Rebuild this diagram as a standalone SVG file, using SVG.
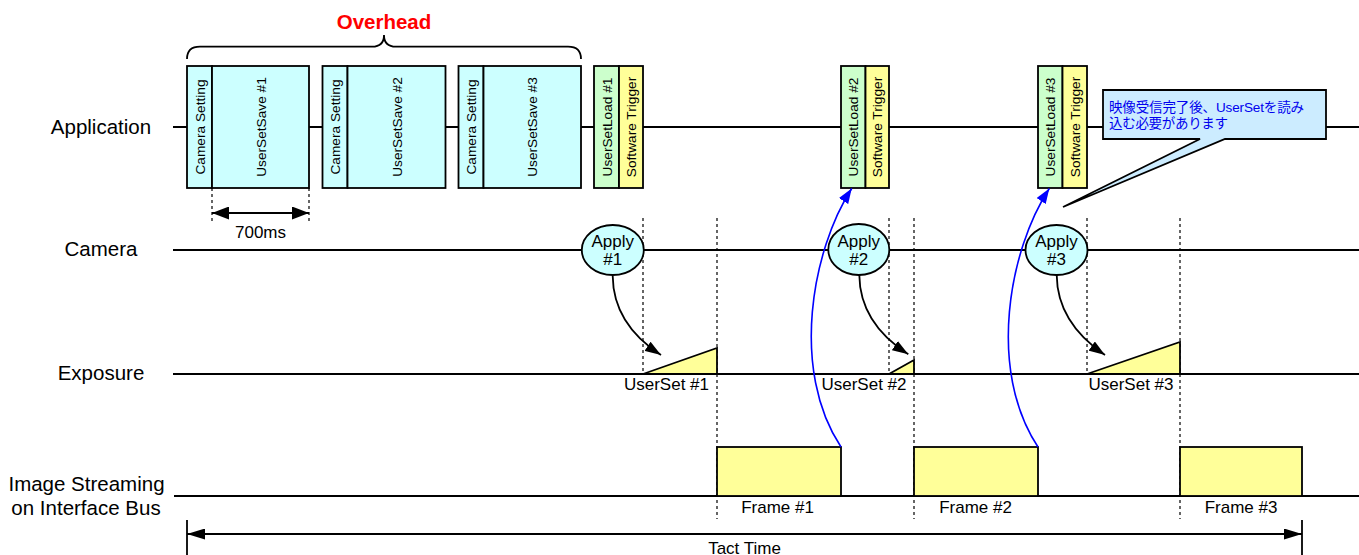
<svg xmlns="http://www.w3.org/2000/svg" width="1359" height="555" viewBox="0 0 1359 555">
<defs>
<style>
text{font-family:"Liberation Sans",Arial,"Noto Sans CJK JP",sans-serif;fill:#000}
.lbl{font-size:20.5px;text-anchor:middle}
.vt{font-size:13.7px;text-anchor:middle}
.sm{font-size:17px}
.mid{text-anchor:middle}
.end{text-anchor:end}
.ln{stroke:#000;stroke-width:1.8;fill:none}
.dash{stroke:#000;stroke-width:1.2;stroke-dasharray:3,3;fill:none}
.box{stroke:#000;stroke-width:1.8}
.cy{fill:#CCFFFF}
.gr{fill:#CCFFCC}
.ye{fill:#FFFF99}
.blue{stroke:#0000FF;stroke-width:1.6;fill:none}
.note{font-size:13.5px;fill:#0000EE}
</style>
<marker id="ahK" viewBox="0 0 16 11" refX="16" refY="5.5" markerWidth="16" markerHeight="11" markerUnits="userSpaceOnUse" orient="auto-start-reverse"><path d="M0,0 L16,5.5 L0,11 z" fill="#000"/></marker>
<marker id="ahDim" viewBox="0 0 17 13" refX="17" refY="6.5" markerWidth="17" markerHeight="13" markerUnits="userSpaceOnUse" orient="auto-start-reverse"><path d="M0,0 L17,6.5 L0,13 z" fill="#000"/></marker>
<marker id="ahT" viewBox="0 0 18 11" refX="18" refY="5.5" markerWidth="18" markerHeight="11" markerUnits="userSpaceOnUse" orient="auto-start-reverse"><path d="M0,0 L18,5.5 L0,11 z" fill="#000"/></marker>
<marker id="ahB" viewBox="0 0 15 11" refX="15" refY="5.5" markerWidth="15" markerHeight="11" markerUnits="userSpaceOnUse" orient="auto"><path d="M0,0 L15,5.5 L0,11 z" fill="#0000FF"/></marker>
</defs>
<rect width="1359" height="555" fill="#fff"/>

<g id="lanes">
<line class="ln" x1="173" y1="127" x2="1359" y2="127"/>
<line class="ln" x1="173" y1="250" x2="1359" y2="250"/>
<line class="ln" x1="173" y1="374" x2="1359" y2="374"/>
<line class="ln" x1="174" y1="496" x2="1359" y2="496"/>
<text class="lbl" x="101" y="133.5">Application</text>
<text class="lbl" x="101" y="256">Camera</text>
<text class="lbl" x="101" y="380">Exposure</text>
<text class="lbl" x="86.5" y="490.5">Image Streaming</text>
<text class="lbl" x="86" y="515">on Interface Bus</text>
</g>

<g id="guides">
<line class="dash" x1="212" y1="188" x2="212" y2="222"/>
<line class="dash" x1="309" y1="188" x2="309" y2="222"/>
<line class="dash" x1="643" y1="218" x2="643" y2="374"/>
<line class="dash" x1="717" y1="218" x2="717" y2="519"/>
<line class="dash" x1="889" y1="218" x2="889" y2="374"/>
<line class="dash" x1="914" y1="218" x2="914" y2="519"/>
<line class="dash" x1="1087" y1="218" x2="1087" y2="374"/>
<line class="dash" x1="1180" y1="218" x2="1180" y2="519"/>
</g>

<g id="overhead">
<text x="384" y="29" class="mid" style="font-size:20.5px;font-weight:bold;fill:#FF0000">Overhead</text>
<path class="ln" d="M187,59 Q187,46.7 200,46.7 H372 Q384,46.7 384,35 Q384,46.7 396,46.7 H568 Q581,46.7 581,59"/>
</g>

<g id="save1">
<rect class="box cy" x="187" y="66" width="25" height="122"/>
<rect class="box cy" x="212" y="66" width="97" height="122"/>
<text class="vt" transform="translate(199.5,127) rotate(-90)" y="5">Camera Setting</text>
<text class="vt" transform="translate(260.5,127) rotate(-90)" y="5">UserSetSave #1</text>
</g>
<g id="save2">
<rect class="box cy" x="322.5" y="66" width="25" height="122"/>
<rect class="box cy" x="347.5" y="66" width="98" height="122"/>
<text class="vt" transform="translate(335,127) rotate(-90)" y="5">Camera Setting</text>
<text class="vt" transform="translate(396.5,127) rotate(-90)" y="5">UserSetSave #2</text>
</g>
<g id="save3">
<rect class="box cy" x="458.5" y="66" width="25" height="122"/>
<rect class="box cy" x="483.5" y="66" width="97.5" height="122"/>
<text class="vt" transform="translate(471,127) rotate(-90)" y="5">Camera Setting</text>
<text class="vt" transform="translate(532.3,127) rotate(-90)" y="5">UserSetSave #3</text>
</g>
<g id="load1">
<rect class="box gr" x="594" y="66" width="25" height="122"/>
<rect class="box ye" x="619" y="66" width="24" height="122"/>
<text class="vt" transform="translate(606.5,127) rotate(-90)" y="5">UserSetLoad #1</text>
<text class="vt" transform="translate(631,127) rotate(-90)" y="5">Software Trigger</text>
</g>
<g id="load2">
<rect class="box gr" x="841" y="66" width="24.5" height="122"/>
<rect class="box ye" x="865.5" y="66" width="23.5" height="122"/>
<text class="vt" transform="translate(853.3,127) rotate(-90)" y="5">UserSetLoad #2</text>
<text class="vt" transform="translate(877.3,127) rotate(-90)" y="5">Software Trigger</text>
</g>
<g id="load3">
<rect class="box gr" x="1038" y="66" width="24.5" height="122"/>
<rect class="box ye" x="1062.5" y="66" width="24.5" height="122"/>
<text class="vt" transform="translate(1050.3,127) rotate(-90)" y="5">UserSetLoad #3</text>
<text class="vt" transform="translate(1074.8,127) rotate(-90)" y="5">Software Trigger</text>
</g>

<g id="dim700">
<line class="ln" x1="212" y1="213" x2="309" y2="213" marker-start="url(#ahDim)" marker-end="url(#ahDim)"/>
<text class="sm mid" x="260.5" y="237.5">700ms</text>
</g>

<g id="callout">
<path d="M1103,90 H1326 V139 H1225 L1063,207 L1200,139 H1103 Z" fill="#CCECFF" stroke="#000" stroke-width="1.8"/>
<text class="note" x="1109" y="112" textLength="195">映像受信完了後、UserSetを読み</text>
<text class="note" x="1109" y="127.5" textLength="119">込む必要があります</text>
</g>

<g id="apply1">
<ellipse class="box cy" cx="612.8" cy="250" rx="31" ry="25"/>
<text class="sm mid" x="612.8" y="246.7">Apply</text>
<text class="sm mid" x="612.8" y="265">#1</text>
</g>
<g id="apply2">
<ellipse class="box cy" cx="858.8" cy="249.5" rx="30.5" ry="25.5"/>
<text class="sm mid" x="858.8" y="246.7">Apply</text>
<text class="sm mid" x="858.8" y="265">#2</text>
</g>
<g id="apply3">
<ellipse class="box cy" cx="1056.5" cy="250" rx="31" ry="25"/>
<text class="sm mid" x="1056.5" y="246.7">Apply</text>
<text class="sm mid" x="1056.5" y="265">#3</text>
</g>

<g id="exposure1">
<polygon class="box ye" points="643,374 717,348 717,374"/>
<text class="sm end" x="709" y="390">UserSet #1</text>
</g>
<g id="exposure2">
<polygon class="box ye" points="889,374 914,360 914,374"/>
<text class="sm end" x="906.5" y="390">UserSet #2</text>
</g>
<g id="exposure3">
<polygon class="box ye" points="1087,374 1180,342 1180,374"/>
<text class="sm end" x="1173.5" y="390">UserSet #3</text>
</g>

<g id="frame1">
<rect class="box ye" x="717" y="447" width="124" height="49"/>
<text class="sm mid" x="777.5" y="513">Frame #1</text>
</g>
<g id="frame2">
<rect class="box ye" x="914" y="447" width="124" height="49"/>
<text class="sm mid" x="975.5" y="513">Frame #2</text>
</g>
<g id="frame3">
<rect class="box ye" x="1180" y="447" width="122" height="49"/>
<text class="sm mid" x="1241" y="513">Frame #3</text>
</g>

<g id="connectors">
<path class="ln" d="M612.7,276 C613,305 627,333 661,355" marker-end="url(#ahK)"/>
<path class="ln" d="M859.3,275 C859.6,304 873.6,332 908.3,354.3" marker-end="url(#ahK)"/>
<path class="ln" d="M1056.7,275 C1057,304 1071,332 1105,355" marker-end="url(#ahK)"/>
<path class="blue" d="M841,447 C790,370 812,250 851.7,188.5" marker-end="url(#ahB)"/>
<path class="blue" d="M1038,447 C987,370 1009,250 1049.3,188.5" marker-end="url(#ahB)"/>
</g>

<g id="tact">
<line class="ln" x1="187" y1="520" x2="187" y2="555"/>
<line class="ln" x1="1302" y1="520" x2="1302" y2="555"/>
<line class="ln" x1="187" y1="534" x2="1302" y2="534" marker-start="url(#ahT)" marker-end="url(#ahT)"/>
<text class="sm mid" x="744.5" y="553.5">Tact Time</text>
</g>
</svg>
